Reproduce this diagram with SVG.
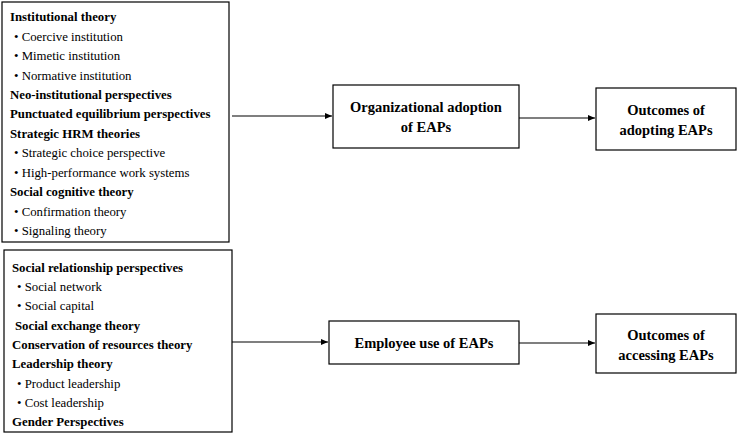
<svg xmlns="http://www.w3.org/2000/svg" width="739" height="434" viewBox="0 0 739 434" font-family="'Liberation Serif', 'Times New Roman', serif">
<style>
.box{fill:#fff;stroke:#000;stroke-width:1.2}
text{font-family:'Liberation Serif','Times New Roman',serif;font-size:12.8px;fill:#000}
.b{font-weight:bold}
.c{font-weight:bold;font-size:14.5px;text-anchor:middle}
.ln{stroke:#000;stroke-width:1.2;fill:none;marker-end:url(#ah)}
</style>
<defs><marker id="ah" markerWidth="8" markerHeight="8" refX="7" refY="4" orient="auto" markerUnits="userSpaceOnUse"><path d="M0,1 L7,4 L0,7z" fill="#000"/></marker></defs>
<g id="org-theories">
<rect class="box" x="2" y="2" width="227" height="240"/>
<text class="b" x="10" y="21">Institutional theory</text>
<text x="14" y="41">• Coercive institution</text>
<text x="14" y="60">• Mimetic institution</text>
<text x="14" y="80">• Normative institution</text>
<text class="b" x="10" y="99">Neo-institutional perspectives</text>
<text class="b" x="10" y="118">Punctuated equilibrium perspectives</text>
<text class="b" x="10" y="138">Strategic HRM theories</text>
<text x="14" y="157">• Strategic choice perspective</text>
<text x="14" y="177">• High-performance work systems</text>
<text class="b" x="10" y="196">Social cognitive theory</text>
<text x="14" y="216">• Confirmation theory</text>
<text x="14" y="235">• Signaling theory</text>
</g>
<g id="emp-theories">
<rect class="box" x="4" y="250" width="228" height="182"/>
<text class="b" x="12" y="272">Social relationship perspectives</text>
<text x="17" y="291">• Social network</text>
<text x="17" y="310">• Social capital</text>
<text class="b" x="15" y="330">Social exchange theory</text>
<text class="b" x="12" y="349">Conservation of resources theory</text>
<text class="b" x="12" y="368">Leadership theory</text>
<text x="17" y="388">• Product leadership</text>
<text x="17" y="407">• Cost leadership</text>
<text class="b" x="12" y="426">Gender Perspectives</text>
</g>
<g id="org-adoption">
<rect class="box" x="333" y="85" width="186" height="63"/>
<text class="c" x="426" y="112">Organizational adoption</text>
<text class="c" x="426" y="132">of EAPs</text>
</g>
<g id="outcomes-adopting">
<rect class="box" x="596" y="88" width="140" height="62"/>
<text class="c" x="666" y="115">Outcomes of</text>
<text class="c" x="666" y="135">adopting EAPs</text>
</g>
<g id="employee-use">
<rect class="box" x="329" y="321" width="190" height="43"/>
<text class="c" x="424" y="348">Employee use of EAPs</text>
</g>
<g id="outcomes-accessing">
<rect class="box" x="596" y="314" width="140" height="59"/>
<text class="c" x="666" y="340">Outcomes of</text>
<text class="c" x="666" y="360">accessing EAPs</text>
</g>
<g id="connectors">
<path class="ln" d="M232,116 H332"/>
<path class="ln" d="M519,118 H595"/>
<path class="ln" d="M232,342 H328"/>
<path class="ln" d="M519,343 H595"/>
</g>
</svg>
